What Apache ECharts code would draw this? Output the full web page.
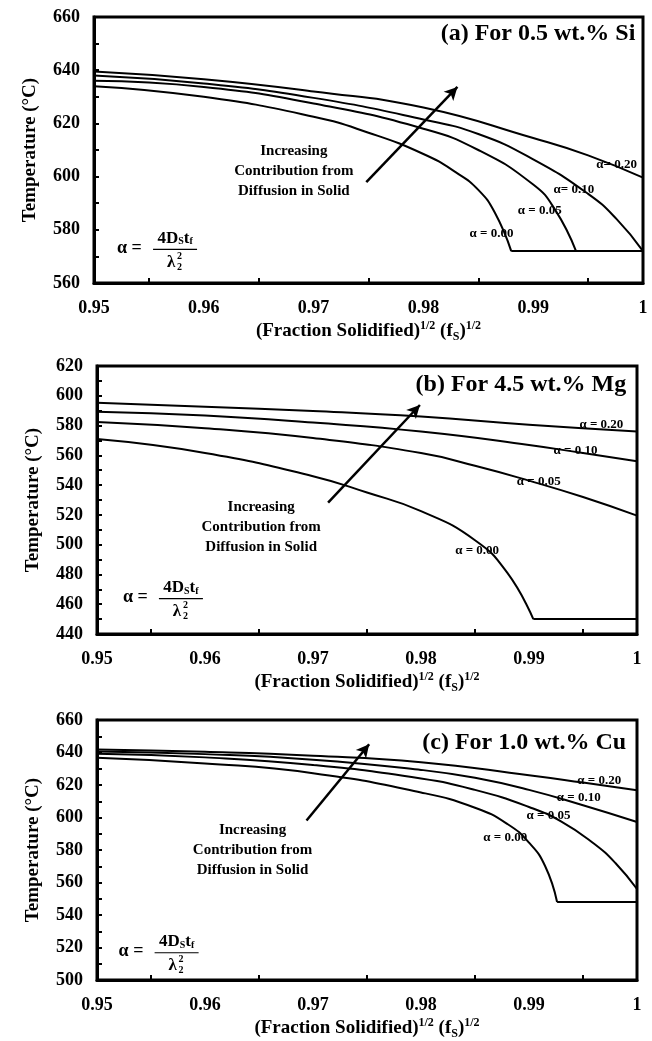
<!DOCTYPE html>
<html>
<head>
<meta charset="utf-8">
<title>Solidification curves</title>
<script src="https://cdn.jsdelivr.net/npm/echarts@6/dist/echarts.min.js"></script>
<style>
  html, body { margin: 0; padding: 0; background: #fff; }
  #main { width: 652px; height: 1041px; }
</style>
</head>
<body>
<div id="main"></div>
<script>
// ---- data: [ (fs)^1/2 , temperature degC ] ----
// (a) 0.5 wt.% Si
const siA00 = [[0.95, 634], [0.96, 630], [0.97, 622.5], [0.975, 616.5], [0.98, 608.5], [0.983, 601.5], [0.985, 595], [0.9865, 586.5], [0.988, 572]];
const siA05 = [[0.95, 636], [0.96, 633.7], [0.97, 627.5], [0.98, 618], [0.985, 610], [0.99, 597], [0.992, 587.5], [0.9939, 572]];
const siA10 = [[0.95, 638], [0.96, 635], [0.97, 629.6], [0.98, 621.5], [0.985, 616], [0.99, 606.5], [0.995, 593.5], [0.9976, 584], [1, 572]];
const siA20 = [[0.95, 639.5], [0.96, 636.6], [0.97, 632], [0.98, 626], [0.99, 614.5], [0.995, 608], [1, 599.6]];
const siEut = [[0.988, 572], [1, 572]];

// (b) 4.5 wt.% Mg
const mgA00 = [[0.95, 570.9], [0.96, 561.6], [0.97, 546], [0.975, 535], [0.98, 522.5], [0.985, 503], [0.988, 481], [0.9904, 450]];
const mgA05 = [[0.95, 582.4], [0.96, 578.2], [0.97, 571.6], [0.98, 561.5], [0.985, 553], [0.99, 543], [0.995, 532], [1, 519.5]];
const mgA10 = [[0.95, 589.3], [0.96, 586.7], [0.97, 582], [0.98, 576], [0.99, 567], [0.995, 561.5], [1, 556]];
const mgA20 = [[0.95, 595.3], [0.96, 592.7], [0.97, 589.8], [0.98, 586], [0.99, 580.5], [1, 576]];
const mgEut = [[0.9904, 450], [1, 450]];

// (c) 1.0 wt.% Cu
const cuA00 = [[0.95, 636.8], [0.96, 633.3], [0.97, 627.3], [0.98, 615.4], [0.985, 606], [0.988, 596], [0.99, 584.5], [0.9915, 570], [0.9926, 548]];
const cuA05 = [[0.95, 639.2], [0.96, 637], [0.97, 632.3], [0.98, 624], [0.985, 617], [0.99, 606.5], [0.993, 597.5], [0.996, 584], [0.998, 572], [1, 556]];
const cuA10 = [[0.95, 640.6], [0.96, 639], [0.97, 635.6], [0.98, 629.3], [0.985, 624.4], [0.99, 617], [0.995, 607.5], [1, 597.2]];
const cuA20 = [[0.95, 641.8], [0.96, 640.4], [0.97, 638], [0.98, 634], [0.99, 626], [0.995, 621.5], [1, 616.8]];
const cuEut = [[0.9926, 548], [1, 548]];

// axis ranges
const xRange = [0.95, 1];
const yRanges = [[560, 660], [440, 620], [500, 660]];

// texts
const titles = ['(a) For 0.5 wt.% Si', '(b) For 4.5 wt.% Mg', '(c) For 1.0 wt.% Cu'];
const curveLabels = [
  ['α = 0.00', 'α = 0.05', 'α= 0.10', 'α= 0.20'],
  ['α = 0.00', 'α = 0.05', 'α = 0.10', 'α = 0.20'],
  ['α = 0.00', 'α = 0.05', 'α = 0.10', 'α = 0.20']
];
const noteText = 'Increasing\nContribution from\nDiffusion in Solid';

// annotation anchors (data coords)
const labelAnchors = [
  [[0.9862, 578.4], [0.9906, 587.1], [0.9937, 595], [0.9976, 604.4]],
  [[0.9852, 496], [0.9909, 542.3], [0.9943, 563.1], [0.9967, 580.4]],
  [[0.9878, 587.3], [0.9918, 601], [0.9946, 612.1], [0.9965, 622.4]]
];
const arrows = [
  [[0.9748, 597.9], [0.9831, 633.7]],
  [[0.9714, 528.2], [0.9799, 593.8]],
  [[0.9694, 598.2], [0.9752, 645.1]]
];
const noteAnchors = [[0.9682, 602.2], [0.9652, 511.6], [0.9644, 579.8]];
const titleAnchors = [[0.9993, 653.8], [0.999, 607.1], [0.999, 646.1]];
const formulaAnchors = [[0.9521, 573], [0.9524, 464.4], [0.952, 517.4]];

const curves = [
  [siA00, siA05, siA10, siA20, siEut],
  [mgA00, mgA05, mgA10, mgA20, mgEut],
  [cuA00, cuA05, cuA10, cuA20, cuEut]
];

const FONT = '"Liberation Serif", "Times New Roman", serif';
const grids = [
  { left: 94, top: 17, width: 549, height: 266 },
  { left: 97, top: 366, width: 540, height: 268 },
  { left: 97, top: 720, width: 540, height: 262 }
];

let chart = echarts.init(document.getElementById('main'));

let xAxes = [], yAxes = [], series = [];
grids.forEach((g, i) => {
  xAxes.push({
    gridIndex: i, type: 'value', min: xRange[0], max: xRange[1], interval: 0.01,
    axisLine: { lineStyle: { color: '#000', width: 3 } },
    axisTick: { show: false, inside: true },
    minorTick: { show: true, splitNumber: 2, length: 5, lineStyle: { color: '#000', width: 2 } },
    splitLine: { show: false },
    axisLabel: { color: '#000', fontFamily: FONT, fontWeight: 'bold', fontSize: 18, margin: 16 },
    name: '(Fraction Solidified){sup|1/2} (f{sub|S}){sup|1/2}',
    nameLocation: 'middle', nameGap: 37,
    nameTextStyle: {
      color: '#000', fontFamily: FONT, fontWeight: 'bold', fontSize: 19, lineHeight: 23,
      rich: {
        sup: { fontFamily: FONT, fontWeight: 'bold', fontSize: 12, verticalAlign: 'top', lineHeight: 23 },
        sub: { fontFamily: FONT, fontWeight: 'bold', fontSize: 12, verticalAlign: 'bottom', lineHeight: 23 }
      }
    }
  });
  yAxes.push({
    gridIndex: i, type: 'value', min: yRanges[i][0], max: yRanges[i][1], interval: 20,
    axisLine: { show: true, lineStyle: { color: '#000', width: 3 } },
    axisTick: { show: true, inside: true, length: 5, lineStyle: { color: '#000', width: 2 } },
    minorTick: { show: true, splitNumber: 2, length: 5, lineStyle: { color: '#000', width: 2 } },
    splitLine: { show: false },
    axisLabel: { color: '#000', fontFamily: FONT, fontWeight: 'bold', fontSize: 18, margin: 14 },
    name: 'Temperature (°C)', nameLocation: 'middle', nameGap: 54,
    nameTextStyle: { color: '#000', fontFamily: FONT, fontWeight: 'bold', fontSize: 19 }
  });
  curves[i].forEach((d, k) => {
    let s = {
      type: 'line', xAxisIndex: i, yAxisIndex: i, data: d,
      showSymbol: false, symbol: 'none', silent: true,
      smooth: k < 4 ? 0.5 : false,
      lineStyle: { color: '#000', width: 2 }
    };
    if (k == 4) {
      s.markLine = {
        silent: true, symbol: ['none', 'arrow'], symbolSize: [10, 13],
        lineStyle: { color: '#000', width: 2.5, type: 'solid' },
        label: { show: false },
        data: [[{ coord: arrows[i][0] }, { coord: arrows[i][1] }]]
      };
    }
    series.push(s);
  });
});

chart.setOption({
  animation: false,
  backgroundColor: '#fff',
  grid: grids.map(g => Object.assign({ show: true, borderColor: '#000', borderWidth: 3, backgroundColor: 'transparent' }, g)),
  xAxis: xAxes,
  yAxis: yAxes,
  series: series
});

// annotations placed at data coordinates
let graphics = [];
const bold = (size) => 'bold ' + size + 'px ' + FONT;
grids.forEach((g, i) => {
  let p = chart.convertToPixel({ gridIndex: i }, titleAnchors[i]);
  graphics.push({ type: 'text', x: p[0], y: p[1], silent: true,
    style: { text: titles[i], font: bold(24), fill: '#000', align: 'right', verticalAlign: 'middle' } });

  labelAnchors[i].forEach((a, k) => {
    let q = chart.convertToPixel({ gridIndex: i }, a);
    graphics.push({ type: 'text', x: q[0], y: q[1], silent: true,
      style: { text: curveLabels[i][k], font: bold(13), fill: '#000', align: 'center', verticalAlign: 'middle' } });
  });

  let n = chart.convertToPixel({ gridIndex: i }, noteAnchors[i]);
  graphics.push({ type: 'text', x: n[0], y: n[1], silent: true,
    style: { text: noteText, font: bold(15), lineHeight: 20, fill: '#000', align: 'center', verticalAlign: 'middle' } });

  // alpha = 4 Ds tf / lambda2^2
  let f = chart.convertToPixel({ gridIndex: i }, formulaAnchors[i]);
  let fx = f[0], fy = f[1];
  graphics.push({ type: 'text', x: fx, y: fy, silent: true,
    style: { text: 'α =', font: bold(18), fill: '#000', align: 'left', verticalAlign: 'middle' } });
  graphics.push({ type: 'text', x: fx + 58, y: fy - 10, silent: true,
    style: { text: '4D{s|S}t{s|f}', font: bold(17), fill: '#000', align: 'center', verticalAlign: 'middle',
      rich: { s: { font: bold(10), verticalAlign: 'bottom', padding: [6, 0, 0, 0] } } } });
  graphics.push({ type: 'line', silent: true,
    shape: { x1: fx + 36, y1: fy + 1, x2: fx + 80, y2: fy + 1 }, style: { stroke: '#000', lineWidth: 1.2 } });
  graphics.push({ type: 'text', x: fx + 54, y: fy + 14, silent: true,
    style: { text: 'λ', font: bold(17), fill: '#000', align: 'center', verticalAlign: 'middle' } });
  graphics.push({ type: 'text', x: fx + 60, y: fy + 8, silent: true,
    style: { text: '2', font: bold(10), fill: '#000', align: 'left', verticalAlign: 'middle' } });
  graphics.push({ type: 'text', x: fx + 60, y: fy + 19, silent: true,
    style: { text: '2', font: bold(10), fill: '#000', align: 'left', verticalAlign: 'middle' } });
});
chart.setOption({ graphic: graphics });
</script>
</body>
</html>
